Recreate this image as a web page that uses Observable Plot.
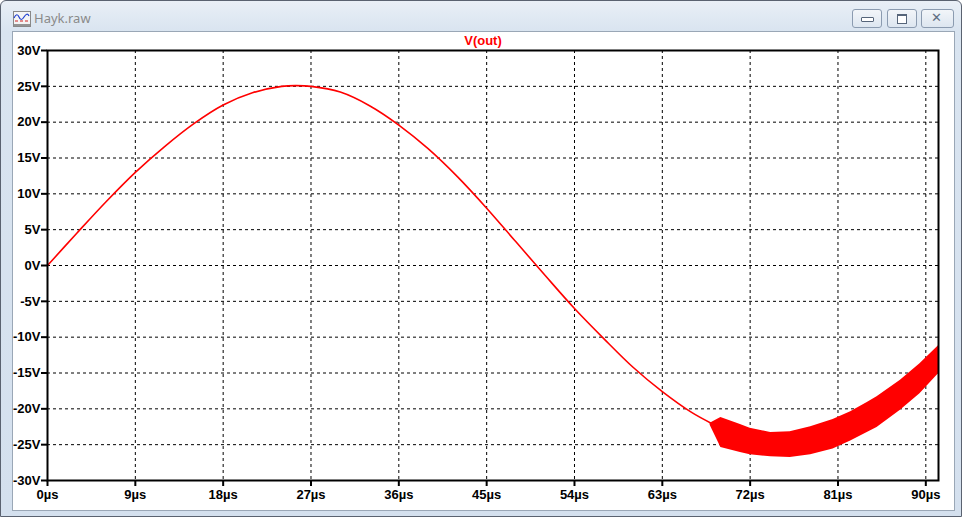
<!DOCTYPE html>
<html>
<head>
<meta charset="utf-8">
<script src="https://cdn.jsdelivr.net/npm/d3@7"></script>
<script src="https://cdn.jsdelivr.net/npm/@observablehq/plot@0.6"></script>
<style>
  html, body { margin: 0; padding: 0; }
  body { width: 962px; height: 517px; overflow: hidden; background: #fff; }
  #win { position: absolute; left: 0; top: 0; width: 960px; height: 515px;
         border: 1px solid #5a6270; border-radius: 6px 6px 0 0;
         background: linear-gradient(#e9eff6, #d9e4f0 30px, #d4e0ee); }
  #client { position: absolute; left: 11px; top: 30px; width: 941px; height: 478px;
            background: #fff; border: 1px solid #9aa7b6; overflow: hidden; }
  #wtitle { position: absolute; left: 33px; top: 8px; font: 13px "Noto Sans", "DejaVu Sans", sans-serif; color: #8a8a8a; }
  #icon { position: absolute; left: 12px; top: 10px; }
  .btn { position: absolute; top: 8px; height: 17px; border: 1px solid #8b9bb0; border-radius: 3px;
         background: linear-gradient(#f2f5f9, #dde6f0); }
  #vtitle { position: absolute; top: 1px; font: bold 13px "Liberation Sans", Arial, sans-serif; color: #ff0000;
            transform: translateX(-50%); }
  #chart { position: absolute; left: 0; top: 0; }
</style>
</head>
<body>
<div id="win">
  <svg id="icon" width="18" height="16" viewBox="0 0 18 16">
    <rect x="0.5" y="0.5" width="17" height="15" fill="#f4f4f4" stroke="#888"/>
    <path d="M1 7 Q4 1 6 6 T11 6 T16 5" fill="none" stroke="#2040d0" stroke-width="1.2"/>
    <path d="M2 10 h3 M7 10 h3 M12 10 h3" stroke="#d02020" stroke-width="1.2"/>
    <path d="M1 14 h16" stroke="#333" stroke-width="1"/>
  </svg>
  <div id="wtitle">Hayk.raw</div>
  <div class="btn" style="left:851px;width:28px"><div style="position:absolute;left:8px;top:7px;width:11px;height:3px;border:1px solid #56657a;border-radius:1px;background:#fff"></div></div>
  <div class="btn" style="left:886px;width:28px"><div style="position:absolute;left:9px;top:4px;width:8px;height:7px;border:1px solid #56657a;border-top-width:2px;background:#fff"></div></div>
  <div class="btn" style="left:920px;width:31px"><div style="position:absolute;left:9px;top:0px;font:bold 13px 'DejaVu Sans',sans-serif;color:#5f6e82">✕</div></div>
  <div id="client">
    <div id="chart"></div>
    <div id="vtitle" style="left:470px">V(out)</div>
  </div>
</div>
<script>
// Thin trace V(out) in volts vs time in µs
const lineT = [0, 3, 6, 9, 12, 15, 18, 21, 24, 25.5, 27, 30, 33, 36, 39, 42, 45, 48, 51, 54, 57, 60, 63, 66, 68];
const lineV = [0, 4.5, 8.9, 13.0, 16.6, 19.8, 22.4, 24.1, 25.0, 25.1, 25.0, 24.2, 22.3, 19.6, 16.3, 12.4, 8.0, 3.3, -1.4, -6.0, -10.2, -14.2, -17.6, -20.5, -22.0];
// Thick oscillating band (envelope) after ~68 µs
const bandT  = [67.9, 69.0, 71.0, 72.0, 74.1, 76.1, 78.2, 80.5, 82.3, 84.0, 85.0, 87.4, 89.4, 91.3];
const bandHi = [-22.0, -21.2, -22.2, -22.7, -23.3, -23.2, -22.5, -21.5, -20.4, -19.1, -18.3, -16.0, -13.7, -11.2];
const bandLo = [-22.3, -25.4, -26.1, -26.4, -26.7, -26.8, -26.4, -25.6, -24.5, -23.3, -22.6, -20.2, -17.9, -15.1];
// Axis ticks
const xTicks = [0, 9, 18, 27, 36, 45, 54, 63, 72, 81, 90];
const yTicks = [-30, -25, -20, -15, -10, -5, 0, 5, 10, 15, 20, 25, 30];

const line = lineT.map((t, i) => ({t, v: lineV[i]}));
const band = bandT.map((t, i) => ({t, lo: bandLo[i], hi: bandHi[i]}));

const chart = Plot.plot({
  width: 941, height: 478,
  marginLeft: 34, marginTop: 18, marginRight: 16, marginBottom: 30,
  style: {fontFamily: "'Liberation Sans', Arial, sans-serif", fontSize: "13px", fontWeight: "bold", color: "#000", background: "transparent"},
  x: {domain: [0, 91.3], label: null},
  y: {domain: [-30, 30], label: null},
  marks: [
    Plot.gridX(xTicks, {stroke: "#000", strokeOpacity: 1, strokeDasharray: "3,3", strokeWidth: 1}),
    Plot.gridY(yTicks, {stroke: "#000", strokeOpacity: 1, strokeDasharray: "3,3", strokeWidth: 1}),
    Plot.line(line, {x: "t", y: "v", stroke: "#ff0000", strokeWidth: 1.6, curve: "catmull-rom"}),
    Plot.areaY(band, {x: "t", y1: "lo", y2: "hi", fill: "#ff0000", curve: "linear"}),
    Plot.frame({stroke: "#000", strokeWidth: 2}),
    Plot.axisX(xTicks, {tickSize: 6, tickPadding: 3, strokeWidth: 2, tickFormat: d => d + "µs", fontWeight: "bold", fontSize: 13}),
    Plot.axisY(yTicks, {tickSize: 6, tickPadding: 1, strokeWidth: 2, tickFormat: d => d + "V", fontWeight: "bold", fontSize: 13})
  ]
});
document.getElementById("chart").appendChild(chart);
</script>
</body>
</html>
